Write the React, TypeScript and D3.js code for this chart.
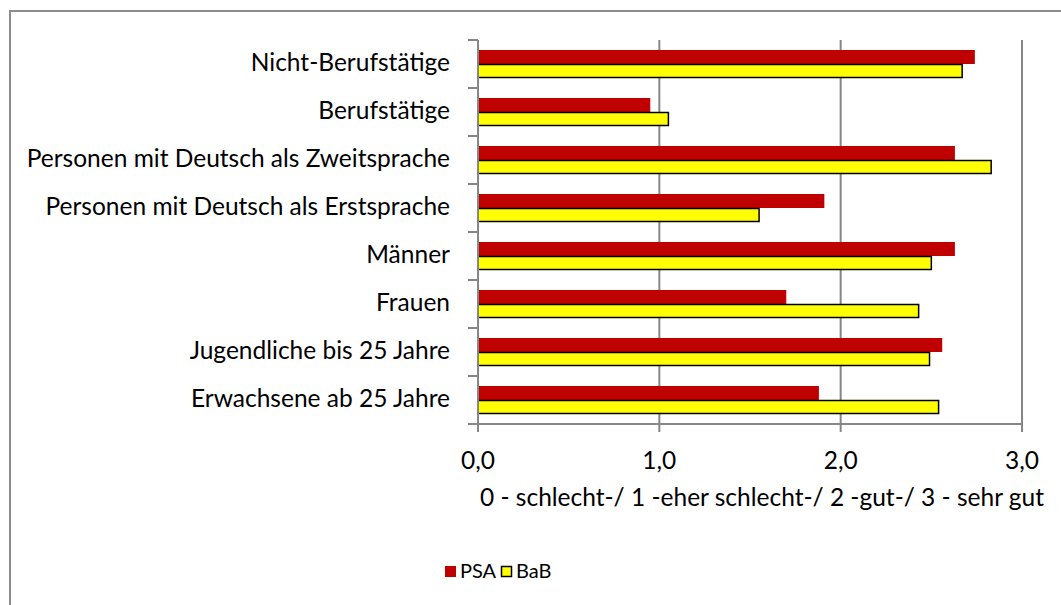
import React from "react";
import * as d3 from "d3";

const categories = [
  "Nicht-Berufstätige",
  "Berufstätige",
  "Personen mit Deutsch als Zweitsprache",
  "Personen mit Deutsch als Erstsprache",
  "Männer",
  "Frauen",
  "Jugendliche bis 25 Jahre",
  "Erwachsene ab 25 Jahre",
];
const seriesNames = ["PSA", "BaB"];
const psaValues = [2.74, 0.95, 2.63, 1.91, 2.63, 1.7, 2.56, 1.88];
const babValues = [2.67, 1.05, 2.83, 1.55, 2.5, 2.43, 2.49, 2.54];
const xTicks = [0, 1, 2, 3];
const axisTitle = "0 - schlecht-/ 1 -eher schlecht-/ 2 -gut-/ 3 - sehr gut";

const W = 1061;
const H = 605;
const FONT = "Lato, 'Open Sans', sans-serif";
const FS = 24.5;
const LFS = 20;

export default function App() {
  const left = 478;
  const right = 1022;
  const top = 40;
  const bottom = 424;

  const x = d3.scaleLinear().domain([0, 3]).range([left, right]);
  const y = d3.scaleBand<string>().domain(categories).range([top, bottom]).padding(0);
  const inner = d3
    .scaleBand<string>()
    .domain(seriesNames)
    .range([10, y.bandwidth() - 10])
    .padding(0);

  const colors: Record<string, string> = { PSA: "#C00000", BaB: "#FFFF00" };
  const values: Record<string, number[]> = { PSA: psaValues, BaB: babValues };
  const fmt = (v: number) => d3.format(".1f")(v).replace(".", ",");
  const axisColor = "#868686";

  const boundaries = categories.map((c) => y(c)!).concat([bottom]);

  return (
    <svg
      width={W}
      height={H}
      style={{ position: "absolute", left: 0, top: 0, background: "#fff" }}
      fontFamily={FONT}
    >
      <rect x={0} y={0} width={W} height={H} fill="#fff" />
      <rect x={10} y={11} width={W + 20} height={H + 20} fill="#fff" stroke="#8c8c8c" strokeWidth={2} />

      {/* gridlines */}
      {xTicks.slice(1).map((t) => (
        <line key={"g" + t} x1={x(t)} x2={x(t)} y1={top} y2={bottom} stroke={axisColor} strokeWidth={2} />
      ))}

      {/* bars */}
      {categories.map((c, i) =>
        seriesNames.map((s) => {
          const v = values[s][i];
          const yy = y(c)! + inner(s)!;
          return s === "BaB" ? (
            <rect
              key={c + s}
              x={x(0)}
              y={yy + 0.5}
              width={x(v) - x(0)}
              height={inner.bandwidth() - 1}
              fill={colors[s]}
              stroke="#000"
              strokeWidth={1.5}
            />
          ) : (
            <rect
              key={c + s}
              x={x(0)}
              y={yy}
              width={x(v) - x(0)}
              height={inner.bandwidth()}
              fill={colors[s]}
            />
          );
        })
      )}

      {/* y axis */}
      <line x1={left} x2={left} y1={top} y2={bottom} stroke={axisColor} strokeWidth={2} />
      {boundaries.map((b, i) => (
        <line key={"yt" + i} x1={left - 10} x2={left} y1={b} y2={b} stroke={axisColor} strokeWidth={2} />
      ))}
      {categories.map((c) => (
        <text
          key={"yl" + c}
          x={450}
          y={y(c)! + y.bandwidth() / 2 - 3}
          textAnchor="end"
          dominantBaseline="central"
          fontSize={FS}
          fill="#000"
        >
          {c}
        </text>
      ))}

      {/* x axis */}
      <line x1={left} x2={right} y1={bottom} y2={bottom} stroke={axisColor} strokeWidth={2} />
      {xTicks.map((t) => (
        <g key={"xt" + t}>
          <line x1={x(t)} x2={x(t)} y1={bottom} y2={bottom + 8} stroke={axisColor} strokeWidth={2} />
          <text
            x={x(t)}
            y={459}
            textAnchor="middle"
            dominantBaseline="central"
            fontSize={FS}
            fill="#000"
          >
            {fmt(t)}
          </text>
        </g>
      ))}
      <text x={762} y={496} textAnchor="middle" dominantBaseline="central" fontSize={FS} fill="#000">
        {axisTitle}
      </text>

      {/* legend */}
      <rect x={445} y={566} width={11} height={11} fill={colors.PSA} />
      <text x={460} y={570} dominantBaseline="central" fontSize={LFS} fill="#000">
        {seriesNames[0]}
      </text>
      <rect x={501.5} y={566.5} width={10} height={10} fill={colors.BaB} stroke="#000" strokeWidth={1.5} />
      <text x={516} y={570} dominantBaseline="central" fontSize={LFS} fill="#000">
        {seriesNames[1]}
      </text>
    </svg>
  );
}
